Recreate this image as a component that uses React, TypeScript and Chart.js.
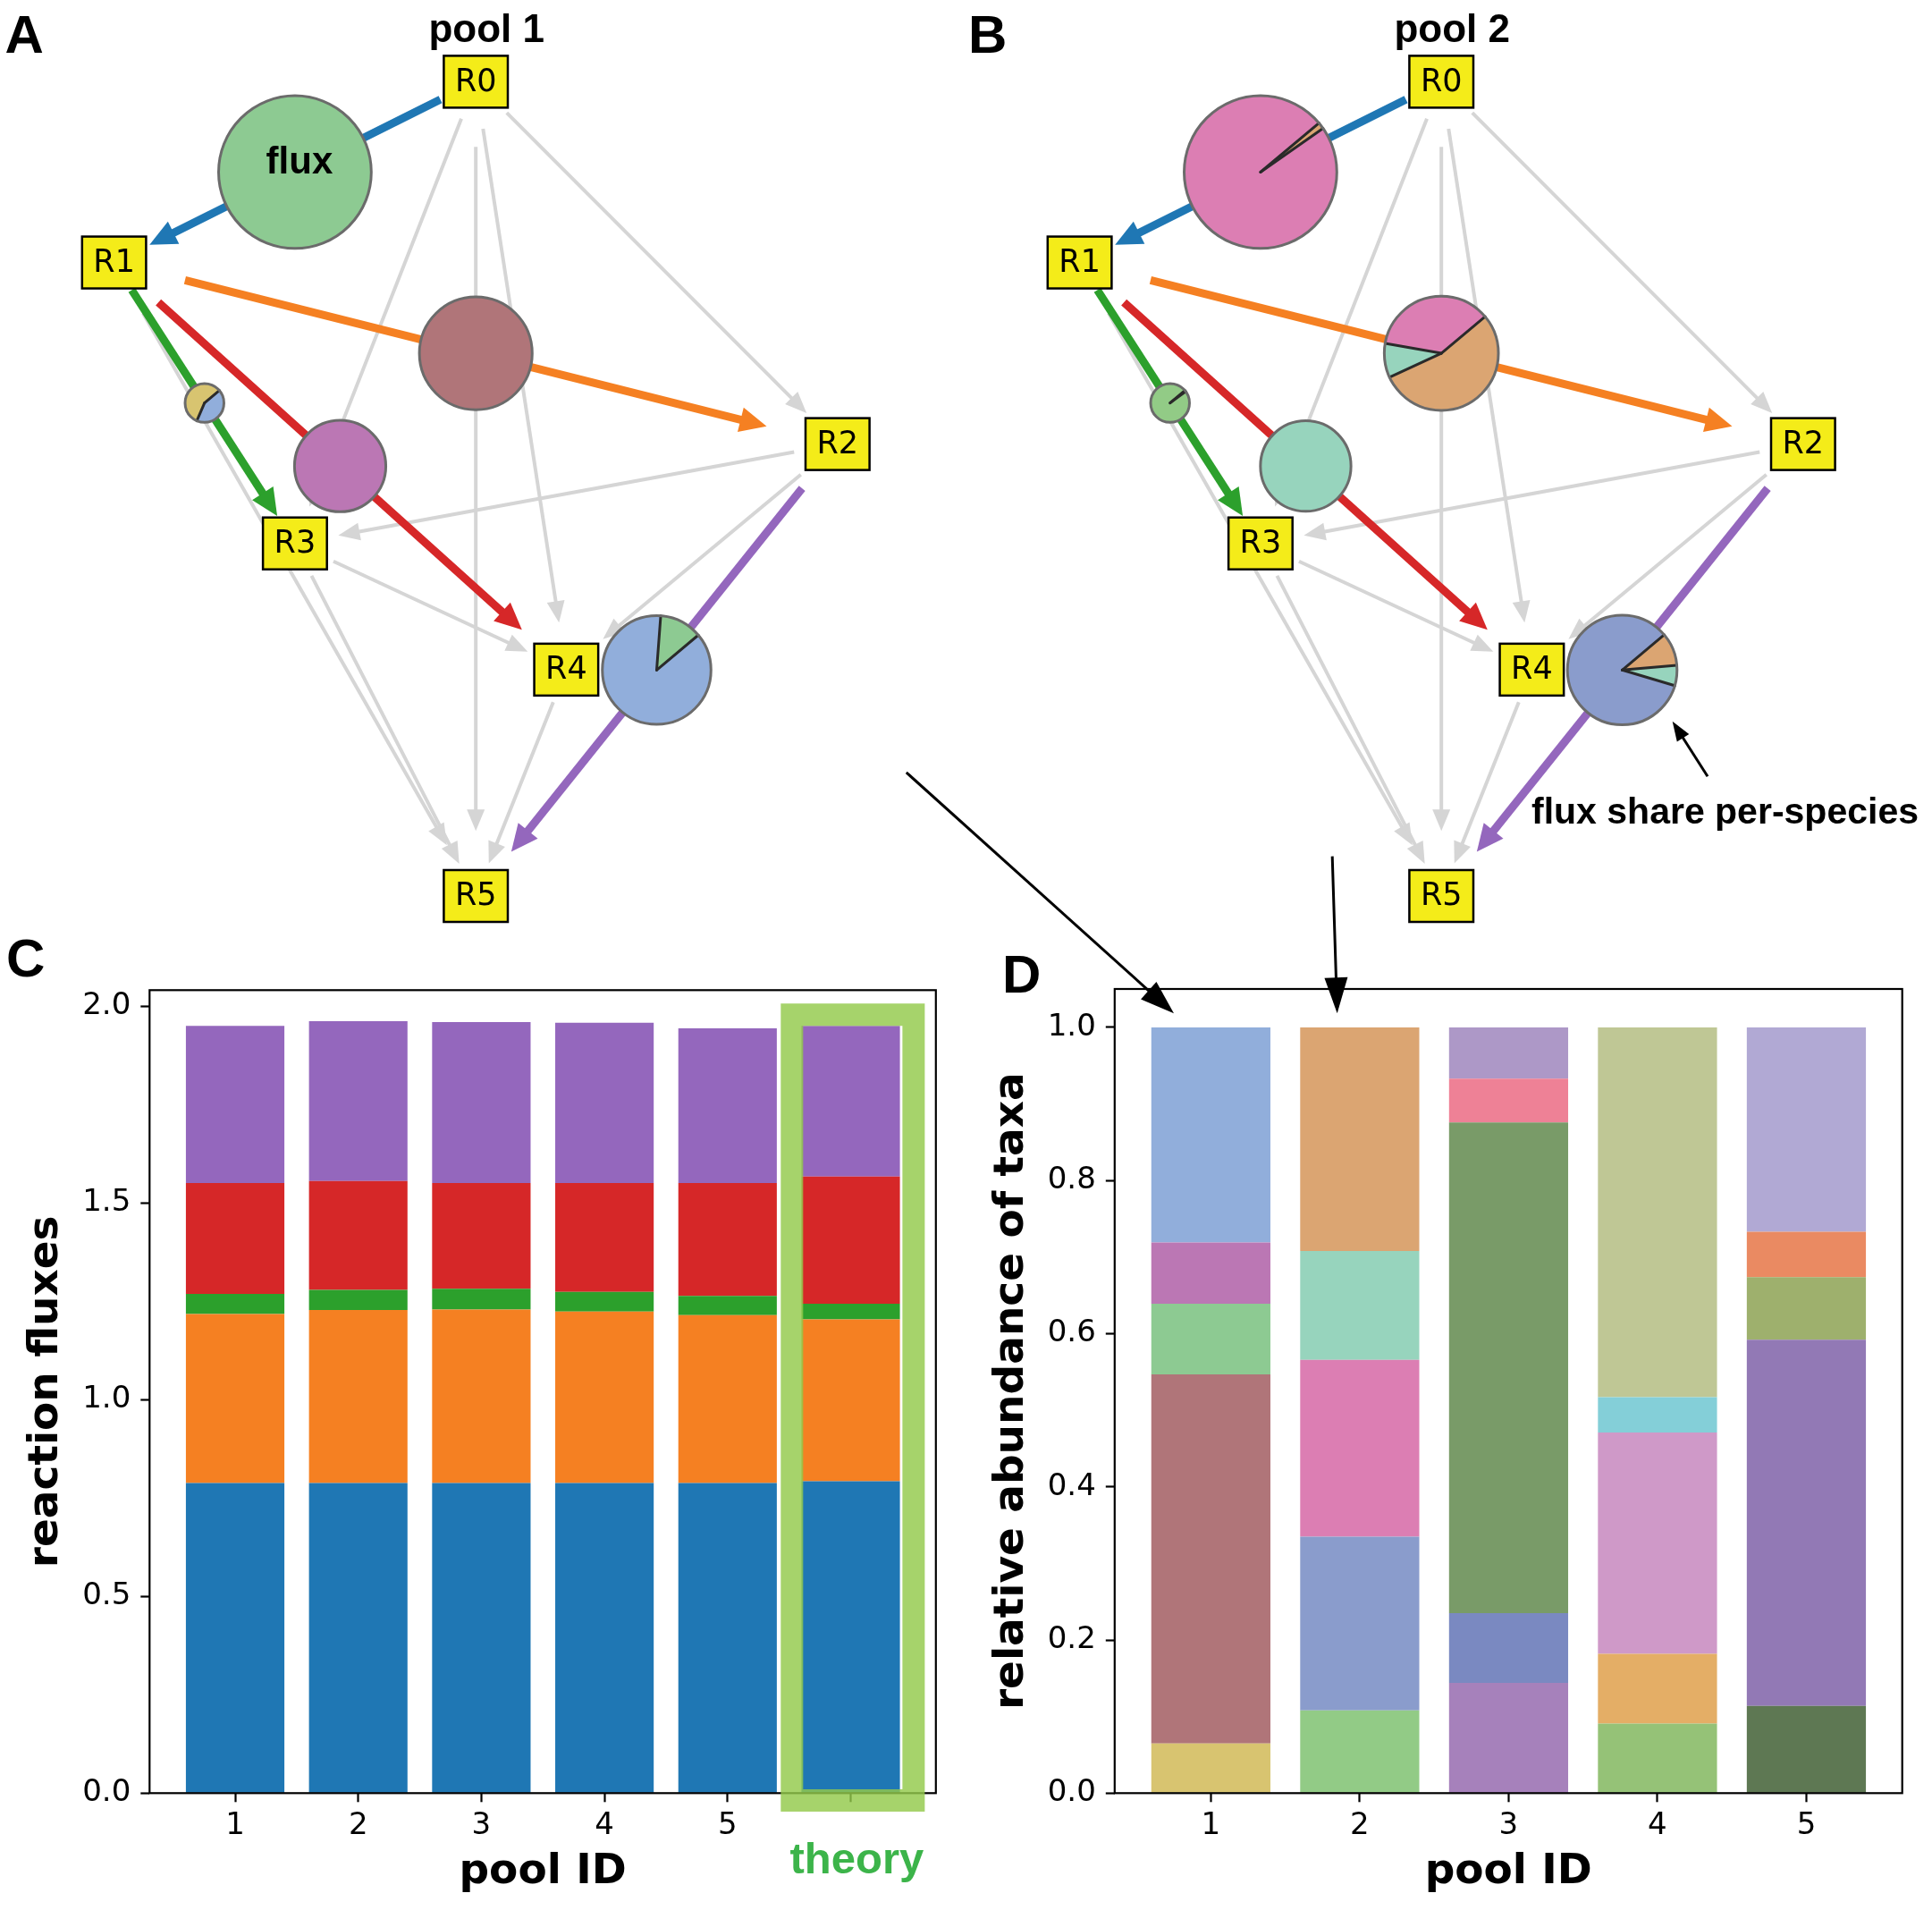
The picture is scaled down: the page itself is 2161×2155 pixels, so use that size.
import React, { useEffect, useRef } from 'react';
import { Chart, registerables } from 'chart.js';

Chart.register(...registerables);

// ---------------- data ----------------
// panel C: reaction fluxes per pool (stacked)
const poolLabels = ['1', '2', '3', '4', '5', 'theory'];
const fluxR0R1 = [0.788, 0.788, 0.788, 0.788, 0.788, 0.793];
const fluxR1R2 = [0.430, 0.440, 0.441, 0.436, 0.427, 0.411];
const fluxR1R3 = [0.051, 0.051, 0.053, 0.050, 0.049, 0.040];
const fluxR1R4 = [0.282, 0.277, 0.269, 0.277, 0.287, 0.323];
const fluxR2R5 = [0.399, 0.406, 0.409, 0.407, 0.393, 0.383];
const reactionNames = ['R0→R1', 'R1→R2', 'R1→R3', 'R1→R4', 'R2→R5'];
const reactionColors = ['#1f77b4', '#f58022', '#2ca02c', '#d62728', '#9467bd'];
const fluxColumns = [fluxR0R1, fluxR1R2, fluxR1R3, fluxR1R4, fluxR2R5];

// panel D: relative abundance of taxa (bottom to top)
const abundancePoolIds = ['1', '2', '3', '4', '5'];
const abundancePool1 = [0.065, 0.482, 0.092, 0.080, 0.281];
const abundancePool2 = [0.108, 0.227, 0.231, 0.142, 0.292];
const abundancePool3 = [0.144, 0.091, 0.641, 0.057, 0.067];
const abundancePool4 = [0.091, 0.091, 0.289, 0.046, 0.483];
const abundancePool5 = [0.114, 0.478, 0.082, 0.059, 0.267];
const taxaColorsPool1 = ['#d8c470', '#b07579', '#8dca92', '#bb77b4', '#91aedb'];
const taxaColorsPool2 = ['#92cb86', '#8a9ccc', '#dc7eb3', '#97d4bd', '#dba572'];
const taxaColorsPool3 = ['#a681bb', '#7a89c1', '#799b68', '#ee8196', '#ad98c7'];
const taxaColorsPool4 = ['#95c277', '#e4ae66', '#cf99c8', '#84cfd8', '#bfc795'];
const taxaColorsPool5 = ['#5e7853', '#9279b5', '#9eb06d', '#ea8a62', '#b1a9d4'];
const abundancePools = [abundancePool1, abundancePool2, abundancePool3, abundancePool4, abundancePool5];
const taxaColorPools = [taxaColorsPool1, taxaColorsPool2, taxaColorsPool3, taxaColorsPool4, taxaColorsPool5];

// panels A/B: reaction network (layout coordinates)
const nodeNames = ['R0', 'R1', 'R2', 'R3', 'R4', 'R5'];
const nodeLayoutX = [0, -1, 1, -0.5, 0.25, 0];
const nodeLayoutY = [1, 0.556, 0.11, -0.134, -0.444, -1];
const fluxEdges = [[0, 1], [1, 2], [1, 3], [1, 4], [2, 5]];
// per-edge flux share of each taxon (taxa ordered as in panel D)
const pool1EdgeShares = [
  [0, 0, 1, 0, 0],
  [0, 1, 0, 0, 0],
  [0.574, 0, 0, 0, 0.426],
  [0, 0, 0, 1, 0],
  [0, 0, 0.127, 0, 0.873],
];
const pool2EdgeShares = [
  [0, 0, 0.986, 0, 0.014],
  [0, 0, 0.361, 0.097, 0.542],
  [0.99, 0, 0, 0, 0.01],
  [0, 0, 0, 1, 0],
  [0, 0.843, 0, 0.06, 0.097],
];

// ---------------- drawing helpers ----------------
const DEJAVU = "'DejaVu Sans', sans-serif";
const LIB = "'Liberation Sans', Arial, sans-serif";
const PIE_K = 96.2;
const PIE_START = (40 * Math.PI) / 180;

function drawArrow(ctx: CanvasRenderingContext2D, x0: number, y0: number, x1: number, y1: number,
  o: { color: string; width: number; head: number; half: number }) {
  const dx = x1 - x0, dy = y1 - y0, L = Math.hypot(dx, dy);
  const ux = dx / L, uy = dy / L;
  const bx = x1 - ux * o.head, by = y1 - uy * o.head;
  ctx.save();
  ctx.strokeStyle = o.color;
  ctx.fillStyle = o.color;
  ctx.lineWidth = o.width;
  ctx.lineCap = 'butt';
  ctx.beginPath();
  ctx.moveTo(x0, y0);
  ctx.lineTo(bx + ux * 3, by + uy * 3);
  ctx.stroke();
  ctx.beginPath();
  ctx.moveTo(x1, y1);
  ctx.lineTo(bx - uy * o.half, by + ux * o.half);
  ctx.lineTo(bx + uy * o.half, by - ux * o.half);
  ctx.closePath();
  ctx.fill();
  ctx.restore();
}

function drawPie(ctx: CanvasRenderingContext2D, cx: number, cy: number, r: number, shares: number[], colors: string[]) {
  let a = -PIE_START;
  const bounds: number[] = [];
  let nz = 0;
  shares.forEach((s) => { if (s > 0) nz++; });
  shares.forEach((s, t) => {
    if (s <= 0) return;
    const b = a - s * 2 * Math.PI;
    ctx.beginPath();
    if (nz === 1) {
      ctx.arc(cx, cy, r, 0, 2 * Math.PI);
    } else {
      ctx.moveTo(cx, cy);
      ctx.arc(cx, cy, r, a, b, true);
      ctx.closePath();
    }
    ctx.fillStyle = colors[t];
    ctx.fill();
    bounds.push(a);
    a = b;
  });
  if (nz > 1) {
    ctx.strokeStyle = '#2a2a2a';
    ctx.lineWidth = 3;
    ctx.lineCap = 'round';
    bounds.forEach((ang) => {
      ctx.beginPath();
      ctx.moveTo(cx, cy);
      ctx.lineTo(cx + r * Math.cos(ang), cy + r * Math.sin(ang));
      ctx.stroke();
    });
  }
  ctx.beginPath();
  ctx.arc(cx, cy, r, 0, 2 * Math.PI);
  ctx.strokeStyle = '#6b6b6b';
  ctx.lineWidth = 3;
  ctx.stroke();
}

function networkPlugin(poolIdx: number, shares: number[][], taxaColors: string[], title: string, fluxLabel: boolean) {
  return {
    id: 'network' + poolIdx,
    afterDatasetsDraw(chart: any) {
      const ctx: CanvasRenderingContext2D = chart.ctx;
      const sx = chart.scales.x, sy = chart.scales.y;
      const pts = nodeNames.map((_, i) => ({ x: sx.getPixelForValue(nodeLayoutX[i]), y: sy.getPixelForValue(nodeLayoutY[i]) }));
      ctx.save();
      ctx.font = `35px ${DEJAVU}`;
      const boxes = nodeNames.map((n) => ({ hw: (ctx.measureText(n).width + 25) / 2, hh: 29 }));
      const isFlux = (i: number, j: number) => fluxEdges.some(([a, b]) => a === i && b === j);
      // grey (zero-flux) edges
      for (let i = 0; i < nodeNames.length; i++) {
        for (let j = i + 1; j < nodeNames.length; j++) {
          if (isFlux(i, j)) continue;
          const p = pts[i], q = pts[j];
          const dx = q.x - p.x, dy = q.y - p.y, L = Math.hypot(dx, dy);
          const ux = dx / L, uy = dy / L;
          const edgeDist = (b: { hw: number; hh: number }) =>
            Math.min(b.hw / Math.max(Math.abs(ux), 1e-6), b.hh / Math.max(Math.abs(uy), 1e-6));
          const s0 = Math.max(0.08 * L, edgeDist(boxes[i]) + 8);
          const s1 = Math.max(0.08 * L, edgeDist(boxes[j]) + 8);
          drawArrow(ctx, p.x + ux * s0, p.y + uy * s0, q.x - ux * s1, q.y - uy * s1,
            { color: '#d5d5d5', width: 4, head: 24, half: 10 });
        }
      }
      // flux-carrying edges
      fluxEdges.forEach(([i, j], k) => {
        const p = pts[i], q = pts[j];
        const dx = q.x - p.x, dy = q.y - p.y;
        const f = 0.098;
        drawArrow(ctx, p.x + dx * f, p.y + dy * f, q.x - dx * f, q.y - dy * f,
          { color: reactionColors[k], width: 9, head: 30, half: 14 });
      });
      // pies at edge midpoints (area ~ flux)
      fluxEdges.forEach(([i, j], k) => {
        const cx = (pts[i].x + pts[j].x) / 2, cy = (pts[i].y + pts[j].y) / 2;
        const r = PIE_K * Math.sqrt(fluxColumns[k][poolIdx]);
        drawPie(ctx, cx, cy, r, shares[k], taxaColors);
        if (fluxLabel && k === 0) {
          ctx.fillStyle = '#000';
          ctx.font = `bold 42px ${LIB}`;
          ctx.textAlign = 'center';
          ctx.textBaseline = 'alphabetic';
          ctx.fillText('flux', cx + 5, cy + 1.5);
        }
      });
      // nodes
      ctx.font = `35px ${DEJAVU}`;
      ctx.textAlign = 'center';
      ctx.textBaseline = 'alphabetic';
      pts.forEach((p, i) => {
        const b = boxes[i];
        ctx.fillStyle = '#f4ec19';
        ctx.fillRect(p.x - b.hw, p.y - b.hh, 2 * b.hw, 2 * b.hh);
        ctx.strokeStyle = '#000';
        ctx.lineWidth = 2.5;
        ctx.strokeRect(p.x - b.hw, p.y - b.hh, 2 * b.hw, 2 * b.hh);
        ctx.fillStyle = '#000';
        ctx.fillText(nodeNames[i], p.x, p.y + 10.2);
      });
      // title
      ctx.font = `bold 44px ${LIB}`;
      ctx.fillText(title, sx.getPixelForValue(0) + 12, 46.7);
      ctx.restore();
    },
  };
}

function networkConfig(poolIdx: number, shares: number[][], taxaColors: string[], title: string, fluxLabel: boolean) {
  return {
    type: 'scatter',
    data: {
      datasets: [{
        data: nodeNames.map((_, i) => ({ x: nodeLayoutX[i], y: nodeLayoutY[i] })),
        pointRadius: 0,
      }],
    },
    options: {
      responsive: false,
      animation: false,
      events: [],
      layout: { padding: 0 },
      plugins: { legend: { display: false }, tooltip: { enabled: false } },
      scales: {
        x: { type: 'linear', display: false, min: -1.31538, max: 1.35393 },
        y: { type: 'linear', display: false, min: -1.10542, max: 1.20075 },
      },
    },
    plugins: [networkPlugin(poolIdx, shares, taxaColors, title, fluxLabel)],
  };
}

const framePlugin = {
  id: 'frame',
  afterDatasetsDraw(chart: any) {
    const { ctx, chartArea: a } = chart;
    ctx.save();
    ctx.strokeStyle = '#000';
    ctx.lineWidth = 2.2;
    ctx.strokeRect(a.left, a.top, a.right - a.left, a.bottom - a.top);
    ctx.restore();
  },
};

const theoryHighlight = { x0: 5.523, x1: 6.511, y0: -0.0186, y1: 1.9786, lineWidth: 25 };

const theoryPlugin = {
  id: 'theory',
  afterDatasetsDraw(chart: any) {
    const { ctx, chartArea: a } = chart;
    const sx = chart.scales.x, sy = chart.scales.y;
    const x0 = sx.getPixelForValue(theoryHighlight.x0), x1 = sx.getPixelForValue(theoryHighlight.x1);
    const y0 = sy.getPixelForValue(theoryHighlight.y0), y1 = sy.getPixelForValue(theoryHighlight.y1);
    ctx.save();
    ctx.strokeStyle = 'rgba(146,201,75,0.82)';
    ctx.lineWidth = theoryHighlight.lineWidth;
    ctx.strokeRect(x0, y1, x1 - x0, y0 - y1);
    ctx.fillStyle = '#3cb44a';
    ctx.font = `bold 49px ${LIB}`;
    ctx.textAlign = 'center';
    ctx.textBaseline = 'alphabetic';
    ctx.fillText(poolLabels[5], sx.getPixelForValue(6.05), a.bottom + 89.7);
    ctx.restore();
  },
};

function axisCommon(min: number, max: number, step: number, fmt: (v: number) => string) {
  return {
    type: 'linear',
    min,
    max,
    stacked: true,
    offset: false,
    grid: { drawOnChartArea: false, drawTicks: true, tickLength: 10, tickWidth: 2.2, tickColor: '#000', offset: false },
    border: { display: false },
    ticks: {
      stepSize: step,
      includeBounds: false,
      autoSkip: false,
      maxRotation: 0,
      color: '#000',
      font: { family: DEJAVU, size: 34 },
      callback: (v: number) => fmt(v),
    },
  };
}

function fluxConfig() {
  const xFmt = (v: number) => {
    const lab = poolLabels[Math.round(v) - 1];
    return !lab || lab === 'theory' ? '' : lab;
  };
  const xAxis = axisCommon(0.305, 6.692, 1, xFmt);
  const yAxis = axisCommon(0, 2.041, 0.5, (v) => v.toFixed(1));
  return {
    type: 'bar',
    data: {
      datasets: reactionNames.map((name, k) => ({
        label: name,
        data: fluxColumns[k].map((v, i) => ({ x: i + 1, y: v })),
        backgroundColor: reactionColors[k],
        borderWidth: 0,
        barPercentage: 1,
        categoryPercentage: 0.8,
      })),
    },
    options: {
      responsive: false,
      animation: false,
      events: [],
      layout: { padding: { left: 23.5, top: 57.3, right: 33.2, bottom: 33.1 } },
      plugins: { legend: { display: false }, tooltip: { enabled: false } },
      scales: {
        x: {
          ...xAxis,
          ticks: { ...xAxis.ticks, padding: 6 },
          title: { display: true, text: 'pool ID', color: '#000', padding: 0, font: { family: DEJAVU, size: 47, weight: 'bold' } },
          afterFit: (s: any) => { s.height = 116.6; },
        },
        y: {
          ...yAxis,
          ticks: { ...yAxis.ticks, padding: 11 },
          title: { display: true, text: 'reaction fluxes', color: '#000', padding: 0, font: { family: DEJAVU, size: 47, weight: 'bold' } },
          afterFit: (s: any) => { s.width = 143.8; },
        },
      },
    },
    plugins: [framePlugin, theoryPlugin],
  };
}

function abundanceConfig() {
  const xAxis = axisCommon(0.354, 5.644, 1, (v) => abundancePoolIds[Math.round(v) - 1] || '');
  const yAxis = axisCommon(0, 1.0502, 0.2, (v) => v.toFixed(1));
  return {
    type: 'bar',
    data: {
      datasets: [0, 1, 2, 3, 4].map((layer) => ({
        label: 'taxon layer ' + (layer + 1),
        data: abundancePools.map((pool, i) => ({ x: i + 1, y: pool[layer] })),
        backgroundColor: taxaColorPools.map((c) => c[layer]),
        borderWidth: 0,
        barPercentage: 1,
        categoryPercentage: 0.8,
      })),
    },
    options: {
      responsive: false,
      animation: false,
      events: [],
      layout: { padding: { left: 23.5, top: 56, right: 33.3, bottom: 33.1 } },
      plugins: { legend: { display: false }, tooltip: { enabled: false } },
      scales: {
        x: {
          ...xAxis,
          ticks: { ...xAxis.ticks, padding: 6 },
          title: { display: true, text: 'pool ID', color: '#000', padding: 0, font: { family: DEJAVU, size: 47, weight: 'bold' } },
          afterFit: (s: any) => { s.height = 116.6; },
        },
        y: {
          ...yAxis,
          ticks: { ...yAxis.ticks, padding: 11 },
          title: { display: true, text: 'relative abundance of taxa', color: '#000', padding: 0, font: { family: DEJAVU, size: 47, weight: 'bold' } },
          afterFit: (s: any) => { s.width = 143.3; },
        },
      },
    },
    plugins: [framePlugin],
  };
}

function ChartCanvas(props: { make: () => any; left: number; top: number; width: number; height: number }) {
  const ref = useRef<HTMLCanvasElement>(null);
  useEffect(() => {
    const chart = new Chart(ref.current as HTMLCanvasElement, props.make());
    return () => chart.destroy();
  }, []);
  return (
    <canvas
      ref={ref}
      width={props.width}
      height={props.height}
      style={{ position: 'absolute', left: props.left, top: props.top, width: props.width, height: props.height }}
    />
  );
}

function SvgArrow(p: { x0: number; y0: number; x1: number; y1: number; head: number; half: number; w: number }) {
  const dx = p.x1 - p.x0, dy = p.y1 - p.y0, L = Math.hypot(dx, dy);
  const ux = dx / L, uy = dy / L;
  const bx = p.x1 - ux * p.head, by = p.y1 - uy * p.head;
  const pts = `${p.x1},${p.y1} ${bx - uy * p.half},${by + ux * p.half} ${bx + uy * p.half},${by - ux * p.half}`;
  return (
    <g>
      <line x1={p.x0} y1={p.y0} x2={bx + ux * 3} y2={by + uy * 3} stroke="#000" strokeWidth={p.w} />
      <polygon points={pts} fill="#000" />
    </g>
  );
}

export default function App() {
  useEffect(() => {
    document.body.style.margin = '0';
    document.body.style.overflow = 'hidden';
  }, []);
  const letter = { fontFamily: LIB, fontWeight: 700, fontSize: 60 } as const;
  return (
    <div style={{ position: 'absolute', left: 0, top: 0, width: 2161, height: 2155, background: '#fff', overflow: 'hidden' }}>
      <ChartCanvas make={() => networkConfig(0, pool1EdgeShares, taxaColorsPool1, 'pool 1', true)} left={0} top={0} width={1080} height={1050} />
      <ChartCanvas make={() => networkConfig(1, pool2EdgeShares, taxaColorsPool2, 'pool 2', false)} left={1080} top={0} width={1080} height={1050} />
      <ChartCanvas make={fluxConfig} left={0} top={1050} width={1080} height={1105} />
      <ChartCanvas make={abundanceConfig} left={1080} top={1050} width={1081} height={1105} />
      <svg width={2161} height={2155} style={{ position: 'absolute', left: 0, top: 0, pointerEvents: 'none' }}>
        <text x={5.5} y={59} style={letter}>A</text>
        <text x={1083} y={59} style={letter}>B</text>
        <text x={7} y={1092} style={letter}>C</text>
        <text x={1121} y={1110} style={letter}>D</text>
        <SvgArrow x0={1013.8} y0={863.9} x1={1313} y1={1133.2} head={38} half={13} w={3} />
        <SvgArrow x0={1490.2} y0={957.6} x1={1495.7} y1={1133.2} head={40} half={13} w={3} />
        <SvgArrow x0={1910} y0={868.3} x1={1870.7} y1={806.7} head={22} half={8} w={3} />
        <text x={1713} y={920.5} style={{ fontFamily: LIB, fontWeight: 700, fontSize: 41 }}>flux share per-species</text>
      </svg>
    </div>
  );
}
